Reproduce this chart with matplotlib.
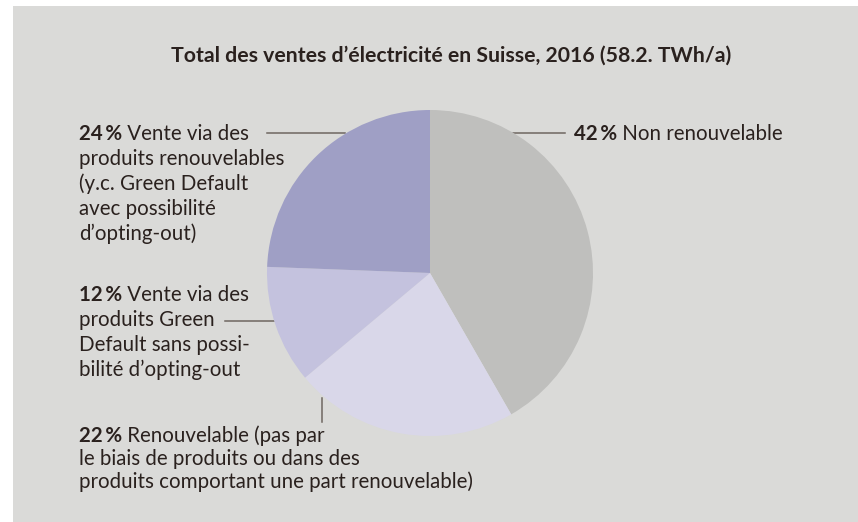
import matplotlib
matplotlib.use("Agg")
import matplotlib.pyplot as plt
from matplotlib.patches import Rectangle

# Data (shares of the pie, clockwise from 12 o'clock)
categories = ["Non renouvelable", "Renouvelable", "Green Default sans opting-out", "Produits renouvelables"]
shares = [41.7, 22.2, 11.7, 24.4]
pct_labels = ["42\u2009%", "22\u2009%", "12\u2009%", "24\u2009%"]
label_lines = [
    ["Non renouvelable"],
    ["Renouvelable (pas par", "le biais de produits ou dans des",
     "produits comportant une part renouvelable)"],
    ["Vente via des", "produits Green", "Default sans possi-", "bilité d\u2019opting-out"],
    ["Vente via des", "produits renouvelables", "(y.c. Green Default",
     "avec possibilité", "d\u2019opting-out)"],
]
colors = ["#bfbfbd", "#d9d7e9", "#c4c2de", "#9f9fc5"]
title = "Total des ventes d\u2019électricité en Suisse, 2016 (58.2. TWh/a)"

W, H = 858, 522
plt.rcParams['font.family'] = ['Lato', 'DejaVu Sans']
TXT = "#2a211e"
LINE = "#6e6661"
FS = 14.8

fig = plt.figure(figsize=(W / 100, H / 100), dpi=100)
fig.patch.set_facecolor("white")
ax = fig.add_axes([0, 0, 1, 1])


def py(y):
    # pixel row from top -> data y
    return H - y


# grey panel
ax.add_patch(Rectangle((13, 0), W - 13, H - 6, facecolor="#dadad8", edgecolor="none", zorder=0))

ax.pie(shares, colors=colors, startangle=90, counterclock=False,
       center=(430, py(273)), radius=163, frame=True,
       wedgeprops=dict(linewidth=0, zorder=2))
ax.set_xlim(0, W)
ax.set_ylim(0, H)
ax.set_aspect("equal")
ax.axis("off")

ax.text(451, py(62), title, ha="center", va="baseline", fontsize=15.3,
        fontweight="bold", color=TXT)

# label blocks: (x, first baseline, line spacing)
blocks = [(574, 140, 25), (79, 442, 23), (79, 301, 25), (79, 140, 25)]
for (x, y0, dy), pct, lines in zip(blocks, pct_labels, label_lines):
    t = ax.text(x, py(y0), pct, ha="left", va="baseline", fontsize=FS,
                fontweight="bold", color=TXT)
    ax.annotate(" " + lines[0], xy=(1, 0), xycoords=t, ha="left", va="bottom",
                fontsize=FS, color=TXT)
    for i, ln in enumerate(lines[1:], start=1):
        ax.text(x, py(y0 + i * dy), ln, ha="left", va="baseline", fontsize=FS, color=TXT)

# leader lines
ax.plot([513, 565], [py(133), py(133)], color=LINE, lw=1.1, zorder=1)
ax.plot([267, 345], [py(133), py(133)], color=LINE, lw=1.1, zorder=1)
ax.plot([225, 274], [py(321), py(321)], color=LINE, lw=1.1, zorder=1)
ax.plot([322, 322], [py(398), py(422)], color=LINE, lw=1.1, zorder=1)

fig.savefig("out.png", dpi=100)
